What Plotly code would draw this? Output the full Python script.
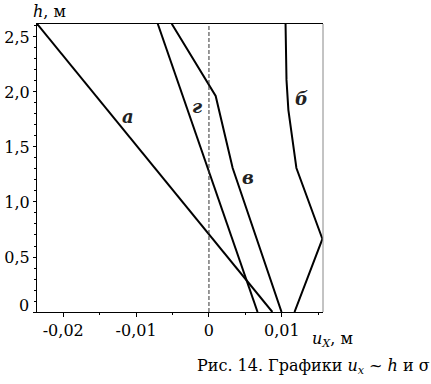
import plotly.graph_objects as go

# Data (u_x in m, h in m)
a_x = [-0.0236, 0.0087]
a_h = [2.62, 0.0]
g_x = [-0.00703, 0.00667]
g_h = [2.62, 0.0]
v_x = [-0.00511, 0.00092, 0.00325, 0.00996]
v_h = [2.62, 1.964, 1.309, 0.0]
b_x = [0.01051, 0.01064, 0.0109, 0.0120, 0.01557, 0.01174]
b_h = [2.62, 2.11, 1.836, 1.309, 0.664, 0.0]

x_ticks = [-0.02, -0.01, 0, 0.01]
x_ticktext = ["-0,02", "-0,01", "0", "0,01"]
y_ticks = [0, 0.5, 1.0, 1.5, 2.0, 2.5]
y_ticktext = ["", "0,5", "1,0", "1,5", "2,0", "2,5"]

labels = [("a", -0.01114, 1.773), ("г", -0.00168, 1.864), ("в", 0.0053, 1.227), ("б", 0.0127, 1.945)]

FONT = "DejaVu Serif"

fig = go.Figure()
line = dict(color="black", width=2)
for xs, hs in [(a_x, a_h), (g_x, g_h), (v_x, v_h), (b_x, b_h)]:
    fig.add_trace(go.Scatter(x=xs, y=hs, mode="lines", line=line, showlegend=False, hoverinfo="skip"))

fig.add_trace(go.Scatter(x=[0, 0], y=[0, 2.62], mode="lines",
                         line=dict(color="#333333", width=1, dash="4px,2px"),
                         showlegend=False, hoverinfo="skip"))

for t, x, y in labels:
    fig.add_annotation(x=x, y=y, text="<b><i>%s</i></b>" % t, showarrow=False,
                       font=dict(family=FONT, size=18, color="#222222"))

fig.add_annotation(xref="paper", yref="paper", x=-0.02, y=0.021, text="0", showarrow=False,
                   xanchor="right", yanchor="middle", font=dict(family=FONT, size=16, color="black"))
fig.add_annotation(xref="paper", yref="paper", x=-0.022, y=1.042, text="<i>h</i>, м", showarrow=False,
                   xanchor="left", yanchor="middle", font=dict(family=FONT, size=16, color="black"))
fig.add_annotation(xref="paper", yref="paper", x=0.955, y=-0.097, text="<i>u</i><sub><i>X</i></sub>, м",
                   showarrow=False, xanchor="left", yanchor="middle", font=dict(family=FONT, size=16, color="black"))
fig.add_annotation(xref="paper", yref="paper", x=0.552, y=-0.19,
                   text="Рис. 14. Графики <i>u</i><sub><i>x</i></sub> ~ <i>h</i> и σ",
                   showarrow=False, xanchor="left", yanchor="middle", font=dict(family=FONT, size=16, color="black"))

fig.add_shape(type="line", xref="paper", yref="paper", x0=1, x1=1, y0=0, y1=1,
              line=dict(color="#888888", width=1))

fig.update_layout(
    width=431, height=384,
    margin=dict(l=37, r=108, t=24, b=72, autoexpand=False),
    paper_bgcolor="white", plot_bgcolor="white",
    font=dict(family=FONT, size=16, color="black"),
    xaxis=dict(range=[-0.0236, 0.01565], tickvals=x_ticks, ticktext=x_ticktext, automargin=False,
               showgrid=False, zeroline=False, showline=True, linecolor="black", linewidth=1,
               mirror=True, ticks="outside", ticklen=4, tickcolor="black",
               minor=dict(ticks="outside", ticklen=2, tickmode="linear", tick0=0, dtick=0.005, tickcolor="black"),
               tickfont=dict(family=FONT, size=16)),
    yaxis=dict(range=[0, 2.618], tickvals=y_ticks, ticktext=y_ticktext, automargin=False,
               showgrid=False, zeroline=False, showline=True, linecolor="black", linewidth=1,
               ticks="outside", ticklen=3, tickcolor="black",
               minor=dict(ticks="outside", ticklen=2, tickmode="linear", tick0=0, dtick=0.1, tickcolor="black"),
               tickfont=dict(family=FONT, size=16)),
)

fig.write_html("out.html", config={"displayModeBar": False},
               post_script="document.body.style.margin='0';")
